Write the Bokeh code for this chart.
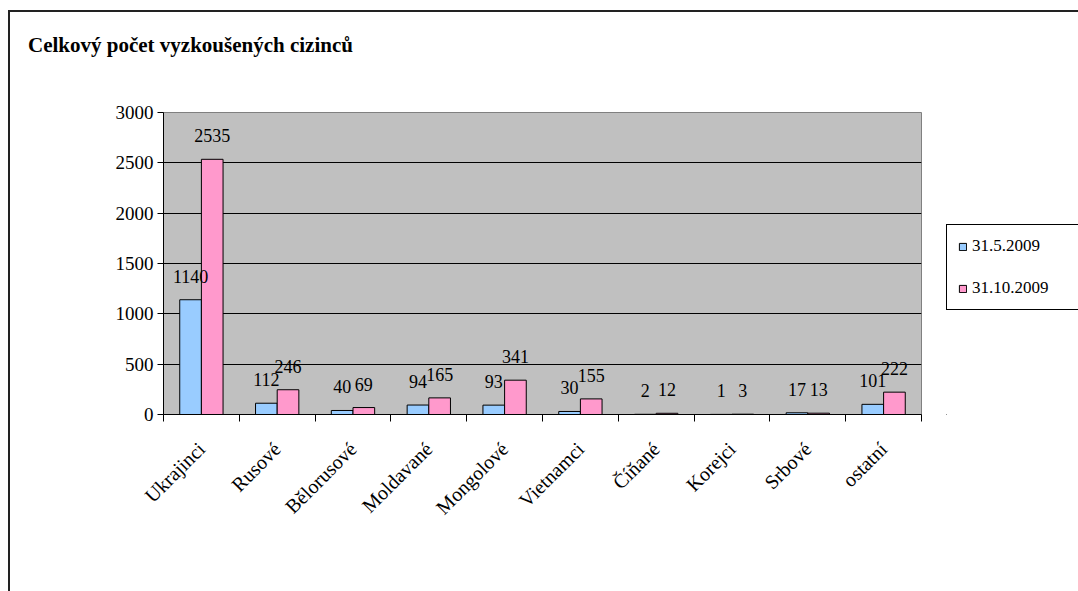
from math import pi
from bokeh.plotting import figure
from bokeh.layouts import row, column
from bokeh.models import (Range1d, FixedTicker, ColumnDataSource, Legend, LegendItem,
                          InlineStyleSheet, Div)
from bokeh.transform import dodge
from bokeh.core.properties import value
from bokeh.embed import file_html
from bokeh.resources import INLINE

categories = ["Ukrajinci", "Rusové", "Bělorusové", "Moldavané", "Mongolové",
              "Vietnamci", "Číňané", "Korejci", "Srbové", "ostatní"]
series_names = ["31.5.2009", "31.10.2009"]
may_2009 = [1140, 112, 40, 94, 93, 30, 2, 1, 17, 101]
oct_2009 = [2535, 246, 69, 165, 341, 155, 12, 3, 13, 222]
y_ticks = [0, 500, 1000, 1500, 2000, 2500, 3000]
title_text = "Celkový počet vyzkoušených cizinců"

colors = ["#99CCFF", "#FF99CC"]
FONT = "Liberation Serif"

W, H = 1078, 591
TITLE_H = 90                      # height of the title strip
L, R, T, B = 163, 921, 112, 414   # plot-area edges in page pixels
LEG_X = 946
n = len(categories)
YMAX = 3000
FH = H - TITLE_H                  # figure height
FT = T - TITLE_H                  # top border inside the figure

centers = [i + 0.5 for i in range(n)]
src = ColumnDataSource(dict(x=centers, a=may_2009, b=oct_2009,
                            at=[str(v) for v in may_2009],
                            bt=[str(v) for v in oct_2009]))

title_div = Div(
    text=('<div style="height:%dpx; line-height:%dpx; padding-left:28px; '
          'text-align:center; white-space:nowrap; font-family:\'%s\'; '
          'font-size:21px; font-weight:bold; color:black;">%s</div>'
          % (TITLE_H, TITLE_H, FONT, title_text)),
    width=W, height=TITLE_H, margin=0)

p = figure(width=LEG_X, height=FH, x_range=Range1d(0, n), y_range=Range1d(0, YMAX),
           output_backend="svg", toolbar_location=None,
           min_border_left=L, min_border_right=LEG_X - R,
           min_border_top=FT, min_border_bottom=H - B)
p.background_fill_color = "#C0C0C0"
p.border_fill_color = "white"
p.outline_line_color = "#808080"
p.outline_line_width = 1
p.title.text = ""

bw = 1.0 / 3.5
p.vbar(x=dodge("x", -bw / 2, range=p.x_range), top="a", width=bw, source=src,
       fill_color=colors[0], line_color="black", line_width=1)
p.vbar(x=dodge("x", bw / 2, range=p.x_range), top="b", width=bw, source=src,
       fill_color=colors[1], line_color="black", line_width=1)

for col, dd in (("at", -bw / 2), ("bt", bw / 2)):
    p.text(x=dodge("x", dd, range=p.x_range), y=col[0], text=col, source=src,
           text_align="center", text_baseline="bottom", y_offset=-17,
           text_font=value(FONT), text_font_size="18px", text_color="black")

# grid
p.xgrid.grid_line_color = None
p.ygrid.grid_line_color = "black"
p.ygrid.grid_line_width = 1
p.ygrid.ticker = FixedTicker(ticks=y_ticks)

# y axis
ya = p.yaxis[0]
ya.ticker = FixedTicker(ticks=y_ticks)
ya.axis_line_color = "black"
ya.major_tick_in = 0
ya.major_tick_out = 6
ya.minor_tick_line_color = None
ya.major_label_text_font = FONT
ya.major_label_text_font_size = "19px"
ya.major_label_standoff = 4
ya.major_label_text_color = "black"

# x axis
xa = p.xaxis[0]
xa.ticker = FixedTicker(ticks=centers, minor_ticks=list(range(n + 1)))
xa.major_label_overrides = {c: cat for c, cat in zip(centers, categories)}
xa.major_tick_line_color = None
xa.minor_tick_in = 0
xa.minor_tick_out = 7
xa.minor_tick_line_color = "black"
xa.axis_line_color = "black"
xa.major_label_orientation = pi / 4
xa.major_label_text_font = FONT
xa.major_label_text_font_size = "20px"
xa.major_label_standoff = 24
xa.major_label_text_color = "black"

# legend panel (second figure, frame aligned with the chart's plot area)
q = figure(width=W - LEG_X, height=FH, x_range=Range1d(0, 1), y_range=Range1d(0, 1),
           output_backend="svg", toolbar_location=None,
           x_axis_type=None, y_axis_type=None,
           min_border_left=0, min_border_right=0,
           min_border_top=FT, min_border_bottom=H - B)
q.outline_line_color = None
q.background_fill_color = "white"
q.border_fill_color = "white"
q.xgrid.grid_line_color = None
q.ygrid.grid_line_color = None
q.title.text = ""
leg_src = ColumnDataSource(dict(x=[-5.0], top=[0.0]))
k1 = q.vbar(x="x", top="top", width=0.1, source=leg_src,
            fill_color=colors[0], line_color="black", line_width=1)
k2 = q.vbar(x="x", top="top", width=0.1, source=leg_src,
            fill_color=colors[1], line_color="black", line_width=1)

legend = Legend(items=[LegendItem(label=series_names[0], renderers=[k1]),
                       LegendItem(label=series_names[1], renderers=[k2])],
                location=(0, B - 310), orientation="vertical")
legend.margin = 0
legend.padding = 11
legend.spacing = 22
legend.glyph_width = 9
legend.glyph_height = 9
legend.label_height = 9
legend.label_width = 150
legend.label_standoff = 5
legend.label_text_font = FONT
legend.label_text_font_size = "17px"
legend.label_text_color = "black"
legend.border_line_color = "black"
legend.border_line_width = 1
legend.border_line_alpha = 1
legend.background_fill_color = "white"
legend.background_fill_alpha = 1
q.add_layout(legend)

layout = column(title_div, row(p, q, spacing=0), spacing=0)
# outer chart frame (page decoration)
layout.stylesheets = [InlineStyleSheet(css="""
:host { position: relative; }
:host::after {
  content: ""; position: absolute; left: 8px; top: 10px;
  width: 1070px; height: 581px; box-sizing: border-box;
  border-left: 2px solid #222; border-top: 2px solid #222;
  pointer-events: none; z-index: 10;
}
""")]

open("out.html", "w").write(file_html(layout, INLINE))
